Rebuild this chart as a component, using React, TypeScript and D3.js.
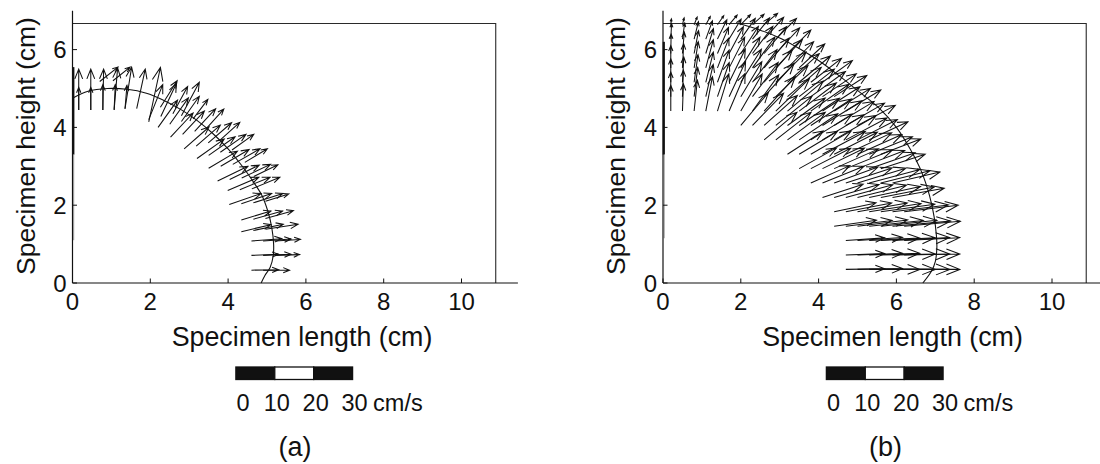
import React from 'react';
import * as d3 from 'd3';

// ---------- data ----------
const xTicks = [0, 2, 4, 6, 8, 10];
const yTicks = [0, 2, 4, 6];
const xDomain: [number, number] = [0, 11.45];
const yDomain: [number, number] = [0, 7];
const specimenLength = 10.88;
const specimenHeight = 6.67;
const quiverScale = 0.1; // cm plotted per cm/s

// flow front curves (cm)
const frontA: [number, number][] = [
  [0, 4.75], [0.4, 4.93], [0.9, 5.0], [1.4, 4.98], [1.9, 4.88], [2.3, 4.72], [2.8, 4.45],
  [3.2, 4.18], [3.6, 3.85], [4.0, 3.45], [4.35, 3.02], [4.65, 2.6], [4.87, 2.25], [5.02, 1.85],
  [5.12, 1.44], [5.17, 1.0], [5.16, 0.7], [5.08, 0.4], [4.95, 0.2], [4.85, 0],
];
const frontB: [number, number][] = [
  [1.95, 6.67], [2.5, 6.5], [3.0, 6.3], [3.5, 6.03], [4.0, 5.72], [4.5, 5.35], [5.0, 4.95],
  [5.55, 4.5], [6.0, 4.0], [6.35, 3.45], [6.65, 2.85], [6.85, 2.25], [6.97, 1.7], [7.03, 1.2],
  [7.04, 0.9], [7.0, 0.55], [6.9, 0.3], [6.68, 0],
];

// panel (a) velocity vectors: [x, y, u, v] (cm, cm, cm/s, cm/s)
const arrowsA: number[][] = [
  [4.6, 0.33, 7.0, 0.1], [4.9, 0.33, 6.8, 0.0],
  [4.6, 0.71, 7.0, 0.3], [4.9, 0.71, 7.2, 0.3], [5.2, 0.71, 6.4, 0.2],
  [4.6, 1.08, 7.8, 0.6], [4.9, 1.08, 7.2, 0.5], [5.2, 1.08, 6.6, 0.4],
  [4.34, 1.32, 7.6, 1.8], [4.65, 1.35, 7.7, 1.6], [4.96, 1.38, 8.4, 1.3],
  [4.34, 1.62, 7.6, 2.3], [4.65, 1.64, 7.5, 2.1], [4.96, 1.66, 7.2, 2.0],
  [4.03, 2.02, 8.2, 2.8], [4.34, 2.04, 7.8, 2.6], [4.65, 2.06, 7.6, 2.4], [4.96, 2.1, 6.0, 1.9],
  [3.99, 2.38, 8.0, 3.4], [4.3, 2.4, 7.8, 3.2], [4.61, 2.42, 7.2, 3.0],
  [3.73, 2.62, 7.8, 3.8], [4.04, 2.66, 7.6, 3.7], [4.35, 2.7, 7.4, 3.5], [4.66, 2.74, 6.2, 3.0],
  [3.5, 2.95, 7.4, 4.4], [3.81, 3.0, 7.3, 4.3], [4.12, 3.05, 7.0, 4.0], [4.43, 3.1, 5.8, 3.5],
  [3.2, 3.2, 7.0, 5.0], [3.5, 3.28, 6.8, 4.8], [3.8, 3.36, 6.6, 4.6], [4.1, 3.42, 5.6, 4.0],
  [2.87, 3.45, 6.4, 5.6], [3.18, 3.52, 6.2, 5.4], [3.49, 3.6, 6.0, 5.2], [3.8, 3.68, 5.0, 4.5],
  [2.52, 3.75, 5.8, 6.2], [2.83, 3.82, 5.6, 6.0], [3.14, 3.9, 5.4, 5.8], [3.45, 3.98, 4.4, 4.9],
  [2.2, 4.0, 5.0, 7.0], [2.5, 4.08, 4.8, 6.8], [2.8, 4.15, 4.6, 6.5], [3.1, 4.22, 3.8, 5.0],
  [1.96, 4.14, 3.0, 14.0], [2.26, 4.52, 4.3, 6.8], [1.96, 4.2, 3.6, 9.0], [2.27, 4.28, 4.0, 8.5],
  [2.58, 4.35, 3.8, 7.0], [2.8, 4.3, 4.6, 8.6],
  [0.16, 4.45, 0, 10.5], [0.47, 4.45, 0, 10.5], [0.78, 4.45, 0.2, 10.5], [1.07, 4.45, 0.9, 10.8],
  [1.35, 4.48, 1.7, 10.7], [1.65, 4.48, 2.2, 10.2],
  [0.16, 4.45, 0, 5.8], [0.47, 4.45, 0, 5.8], [0.78, 4.45, 0, 6.5], [1.07, 4.45, 0.3, 6.5],
  [1.35, 4.48, 0.5, 6.0],
  [0.7, 5.18, 4.7, 3.7], [1.04, 5.2, 4.4, 3.5],
];

// panel (b) velocity rows: [y, tail x list, speed (cm/s) list, direction (deg) list]
const rowsB: [number, number[], number[], number[]][] = [
  [0.35, [4.7, 5.0, 5.3, 5.6, 5.9, 6.2], [10, 11.6, 13, 14, 14.7, 14.3], [1, 1, 0, 0, 0, 0]],
  [0.72, [4.7, 5.0, 5.3, 5.6, 5.9, 6.2], [10, 11.6, 13, 14, 14.7, 14.3], [2, 2, 2, 1, 1, 1]],
  [1.09, [4.7, 5.0, 5.3, 5.6, 5.9, 6.2], [10, 11.6, 13, 14, 14.7, 14.3], [4, 4, 3, 3, 3, 3]],
  [1.46, [4.4, 4.7, 5.0, 5.3, 5.6, 5.9, 6.2], [11, 12, 13, 14, 14.5, 15, 14.5], [8, 7, 7, 6, 6, 5, 5]],
  [1.83, [4.4, 4.7, 5.0, 5.3, 5.6, 5.9, 6.2], [11, 12, 13, 13.5, 14, 14.5, 14], [12, 11, 10, 9, 8, 7, 7]],
  [2.2, [4.1, 4.4, 4.7, 5.0, 5.3, 5.6, 5.9], [11, 12, 12.5, 13, 13.5, 14, 13.5], [18, 16, 15, 14, 12, 11, 10]],
  [2.57, [3.8, 4.1, 4.4, 4.7, 5.0, 5.3, 5.6, 5.9], [11, 11.5, 12, 12.5, 13, 13.5, 13, 12.5], [24, 22, 20, 18, 17, 15, 14, 13]],
  [2.94, [3.5, 3.8, 4.1, 4.4, 4.7, 5.0, 5.3, 5.6], [11, 11.5, 12, 12.5, 13, 13, 12.5, 12], [29, 27, 26, 24, 22, 21, 19, 18]],
  [3.31, [3.2, 3.5, 3.8, 4.1, 4.4, 4.7, 5.0, 5.3, 5.6], [11, 11.5, 12, 12.5, 12.5, 13, 12.5, 12, 11], [33, 31, 30, 28, 27, 25, 24, 22, 21]],
  [3.68, [2.6, 2.9, 3.2, 3.5, 3.8, 4.1, 4.4, 4.7, 5.0, 5.3], [11, 11.5, 12, 12, 12.5, 12.5, 12.5, 12, 11.5, 11], [40, 38, 36, 34, 32, 31, 30, 28, 27, 25]],
  [4.05, [2.0, 2.3, 2.6, 2.9, 3.2, 3.5, 3.8, 4.1, 4.4, 4.7, 5.0], [11, 11.5, 11.5, 12, 12, 12.5, 12.5, 12, 12, 11.5, 11], [50, 46, 42, 39, 36, 34, 33, 32, 31, 30, 28]],
  [4.42, [0.2, 0.5, 0.8, 1.1, 1.4, 1.7, 2.0, 2.3, 2.6, 2.9, 3.2, 3.5, 3.8, 4.1, 4.4, 4.7],
    [6.6, 7, 8, 9, 10, 10.5, 11, 11.5, 12, 12, 12, 12, 12, 11.5, 11, 10.5],
    [90, 88, 84, 79, 73, 67, 60, 54, 48, 44, 40, 37, 35, 33, 32, 31]],
  [4.79, [0.2, 0.5, 0.8, 1.1, 1.4, 1.7, 2.0, 2.3, 2.6, 2.9, 3.2, 3.5, 3.8, 4.1, 4.4],
    [6.3, 6.8, 7.6, 8.5, 9.3, 10, 10.5, 11, 11.5, 11.5, 11.5, 11.5, 11, 10.5, 10],
    [90, 88, 83, 77, 71, 65, 59, 53, 48, 44, 41, 38, 36, 34, 33]],
  [5.16, [0.2, 0.5, 0.8, 1.1, 1.4, 1.7, 2.0, 2.3, 2.6, 2.9, 3.2, 3.5, 3.8, 4.1],
    [6, 6.5, 7.2, 8, 8.8, 9.5, 10, 10.5, 11, 11, 11, 10.5, 10, 9.5],
    [90, 87, 82, 76, 70, 64, 58, 53, 49, 45, 42, 40, 38, 36]],
  [5.53, [0.2, 0.5, 0.8, 1.1, 1.4, 1.7, 2.0, 2.3, 2.6, 2.9, 3.2, 3.5],
    [5.7, 6.2, 6.8, 7.5, 8.2, 8.8, 9.3, 9.8, 10, 10, 9.5, 9],
    [90, 87, 81, 75, 69, 63, 58, 54, 50, 47, 45, 43]],
  [5.9, [0.2, 0.5, 0.8, 1.1, 1.4, 1.7, 2.0, 2.3, 2.6, 2.9, 3.2],
    [5, 5.5, 6, 6.7, 7.3, 7.8, 8.3, 8.7, 9, 9, 8.5],
    [89, 85, 79, 73, 67, 62, 57, 53, 50, 47, 45]],
  [6.27, [0.2, 0.5, 0.8, 1.1, 1.4, 1.7, 2.0, 2.3, 2.6, 2.9],
    [4, 4.2, 4.6, 5, 5.5, 6, 6.5, 7, 7.5, 7.5],
    [87, 82, 76, 70, 64, 59, 55, 51, 48, 45]],
  [6.64, [0.2, 0.5, 0.8, 1.1, 1.4, 1.7, 2.0, 2.3, 2.6],
    [1.5, 1.8, 2.1, 2.4, 2.8, 3.2, 3.6, 4.0, 4.5],
    [84, 76, 68, 61, 55, 50, 46, 42, 40]],
];

const scaleLabels = ['0', '10', '20', '30'];
const scaleValues = [0, 10, 20, 30];
const scaleUnit = 'cm/s';

// ---------- layout ----------
const W = 1100;
const H = 464;
const PX_PER_CM = 38.9;
const Y0 = 283;
const FONT = "'Liberation Sans', Arial, Helvetica, sans-serif";
const INK = '#111';

type PanelProps = {
  ox: number;
  front: [number, number][];
  arrows: number[][];
  tag: string;
  leftThick: [number, number];
  leftGray: [number, number];
};

function Arrow({ x1, y1, x2, y2 }: { x1: number; y1: number; x2: number; y2: number }) {
  const dx = x2 - x1;
  const dy = y2 - y1;
  const L = Math.hypot(dx, dy);
  if (L < 0.01) return null;
  const ux = dx / L;
  const uy = dy / L;
  const hl = Math.max(2.5, 0.24 * L);
  const hw = 0.4 * hl;
  const bx = x2 - ux * hl;
  const by = y2 - uy * hl;
  const d = `M${x1},${y1}L${x2},${y2}M${bx - uy * hw},${by + ux * hw}L${x2},${y2}L${bx + uy * hw},${by - ux * hw}`;
  return <path d={d} fill="none" stroke={INK} strokeWidth={1.05} />;
}

function Panel({ ox, front, arrows, tag, leftThick, leftGray }: PanelProps) {
  const xS = d3.scaleLinear().domain(xDomain).range([ox, ox + xDomain[1] * PX_PER_CM]);
  const yS = d3.scaleLinear().domain(yDomain).range([Y0, Y0 - yDomain[1] * PX_PER_CM]);
  const line = d3
    .line<[number, number]>()
    .x((d) => xS(d[0]))
    .y((d) => yS(d[1]))
    .curve(d3.curveCatmullRom.alpha(0.5));

  const barX0 = 4.2; // cm position of scale-bar start
  const barTop = 367;
  const barH = 12.5;

  return (
    <g>
      {/* specimen outline */}
      <path
        d={`M${xS(0)},${yS(specimenHeight)}H${xS(specimenLength)}V${yS(0)}`}
        fill="none"
        stroke="#2a2a2a"
        strokeWidth={1.1}
      />
      <line x1={xS(0) + 0.8} x2={xS(0) + 0.8} y1={yS(leftThick[0])} y2={yS(leftThick[1])} stroke={INK} strokeWidth={2.2} />
      <line x1={xS(0) + 1.2} x2={xS(0) + 1.2} y1={yS(leftGray[0])} y2={yS(leftGray[1])} stroke="#9a9a9a" strokeWidth={1} />

      {/* quiver */}
      {arrows.map((a, i) => (
        <Arrow
          key={i}
          x1={xS(a[0])}
          y1={yS(a[1])}
          x2={xS(a[0] + a[2] * quiverScale)}
          y2={yS(a[1] + a[3] * quiverScale)}
        />
      ))}

      {/* flow front */}
      <path d={line(front) || ''} fill="none" stroke={INK} strokeWidth={1.1} />

      {/* axes */}
      <line x1={xS(0)} x2={xS(xDomain[1])} y1={yS(0)} y2={yS(0)} stroke={INK} strokeWidth={1.2} />
      <line x1={xS(0)} x2={xS(0)} y1={yS(0)} y2={yS(yDomain[1])} stroke={INK} strokeWidth={1.2} />
      {xTicks.map((t) => (
        <g key={'xt' + t}>
          <line x1={xS(t)} x2={xS(t)} y1={yS(0)} y2={yS(0) - 4.5} stroke={INK} strokeWidth={1} />
          <text x={xS(t)} y={310} textAnchor="middle" fontSize={24} fontFamily={FONT} fill={INK}>
            {t}
          </text>
        </g>
      ))}
      {yTicks.map((t) => (
        <g key={'yt' + t}>
          <line x1={xS(0)} x2={xS(0) + 4.5} y1={yS(t)} y2={yS(t)} stroke={INK} strokeWidth={1} />
          <text x={xS(0) - 6} y={yS(t)} dy="0.36em" textAnchor="end" fontSize={24} fontFamily={FONT} fill={INK}>
            {t}
          </text>
        </g>
      ))}
      <text x={ox + 229.5} y={346} textAnchor="middle" fontSize={26.8} fontFamily={FONT} fill={INK}>
        Specimen length (cm)
      </text>
      <text
        transform={`translate(${ox - 38},146) rotate(-90)`}
        textAnchor="middle"
        fontSize={26.5}
        fontFamily={FONT}
        fill={INK}
      >
        Specimen height (cm)
      </text>

      {/* scale bar */}
      {scaleValues.slice(0, 3).map((v, i) => {
        const xa = xS(barX0 + v * quiverScale);
        const xb = xS(barX0 + scaleValues[i + 1] * quiverScale);
        return (
          <rect
            key={'sb' + i}
            x={xa}
            y={barTop}
            width={xb - xa}
            height={barH}
            fill={i % 2 === 0 ? INK : '#fff'}
            stroke={INK}
            strokeWidth={1.3}
          />
        );
      })}
      {scaleLabels.map((s, i) => (
        <text
          key={'sl' + i}
          x={i === 0 ? xS(barX0) + 0.5 : xS(barX0 + scaleValues[i] * quiverScale) + 2}
          y={411}
          textAnchor={i === 0 ? 'start' : 'middle'}
          fontSize={23.5}
          fontFamily={FONT}
          fill={INK}
        >
          {s}
        </text>
      ))}
      <text x={xS(barX0 + 3 * 10 * quiverScale) + 20.5} y={411} fontSize={23.5} fontFamily={FONT} fill={INK}>
        {scaleUnit}
      </text>

      <text x={ox + 222.5} y={456} textAnchor="middle" fontSize={27} fontFamily={FONT} fill={INK}>
        {tag}
      </text>
    </g>
  );
}

export default function App() {
  const arrowsB: number[][] = [];
  rowsB.forEach(([y, xs, sp, dir]) => {
    xs.forEach((x, i) => {
      const a = (dir[i] * Math.PI) / 180;
      arrowsB.push([x, y, sp[i] * Math.cos(a), sp[i] * Math.sin(a)]);
    });
  });
  return (
    <svg
      width={W}
      height={H}
      viewBox={`0 0 ${W} ${H}`}
      style={{ position: 'absolute', left: 0, top: 0, background: '#fff' }}
    >
      <Panel ox={72.5} front={frontA} arrows={arrowsA} tag="(a)" leftThick={[3.3, 5.55]} leftGray={[1.1, 3.3]} />
      <Panel ox={663} front={frontB} arrows={arrowsB} tag="(b)" leftThick={[3.3, 6.2]} leftGray={[1.15, 3.3]} />
    </svg>
  );
}
